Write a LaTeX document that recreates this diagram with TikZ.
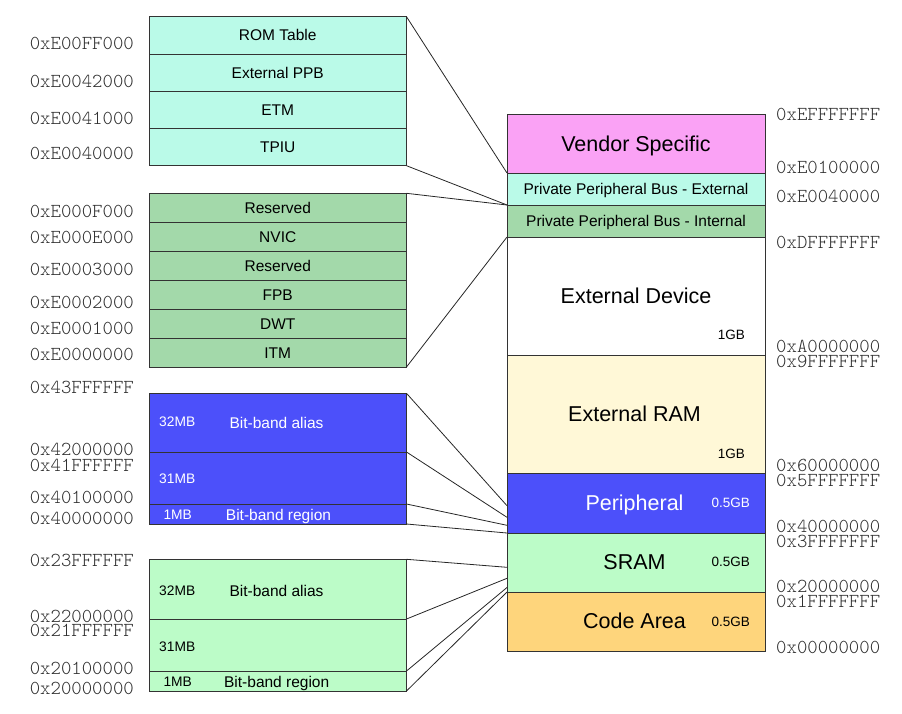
\documentclass[tikz,border=0pt]{standalone}
\usepackage{fontspec}
\setmainfont{Liberation Sans}
\definecolor{cA}{RGB}{186,250,232}
\definecolor{cB}{RGB}{163,217,170}
\definecolor{cBlue}{RGB}{76,80,250}
\definecolor{cG}{RGB}{188,252,200}
\definecolor{cVend}{RGB}{250,162,245}
\definecolor{cRam}{RGB}{255,248,215}
\definecolor{cCode}{RGB}{254,213,124}
\newcommand\addrfont{\ttfamily\fontseries{l}\fontsize{19.8}{20}\selectfont}
\begin{document}
\begin{tikzpicture}[x=1pt,y=-1pt,
  cell/.style={draw=black!80, line width=0.8pt, anchor=north west, inner sep=0pt, outer sep=0pt,
    font=\fontsize{15.5}{16}\selectfont, text height=11.1pt, text depth=0pt},
  lcell/.style={cell, minimum width=257.5pt},
  mcell/.style={cell, minimum width=258pt},
  bigtxt/.style={font=\fontsize{21.5}{22}\selectfont, text height=15.4pt, text depth=0pt},
  gbtxt/.style={font=\fontsize{13.5}{14}\selectfont, text height=9.7pt, text depth=0pt, inner sep=0pt, anchor=east},
  mbtxt/.style={font=\fontsize{13.8}{14}\selectfont, text height=9.9pt, text depth=0pt, inner sep=0pt, anchor=west},
  bbtxt/.style={font=\fontsize{15.5}{16}\selectfont, text height=11.1pt, text depth=0pt, inner sep=0pt},
  laddr/.style={font=\addrfont, inner sep=0pt, anchor=base east, text=black!82, text height=11.5pt, text depth=0pt},
  raddr/.style={font=\addrfont, inner sep=0pt, anchor=base west, text=black!82, text height=11.5pt, text depth=0pt},
  conn/.style={draw=black!85, line width=0.8pt}
]
\useasboundingbox (0,0) rectangle (902,713);

% ---------- main memory map ----------
\node[mcell, fill=cVend, minimum height=59pt, bigtxt] (vendor) at (507,114) {Vendor Specific};
\node[mcell, fill=cA, minimum height=32pt] (ppbe) at (507,173) {Private Peripheral Bus - External};
\node[mcell, fill=cB, minimum height=32pt] (ppbi) at (507,205) {Private Peripheral Bus - Internal};
\node[mcell, fill=white, minimum height=118pt, bigtxt] (extdev) at (507,237) {External Device};
\node[mcell, fill=cRam, minimum height=118.5pt] (extram) at (507,355) {};
\node[mcell, fill=cBlue, minimum height=59.5pt] (periph) at (507,473.5) {};
\node[mcell, fill=cG, minimum height=59pt] (sram) at (507,533) {};
\node[mcell, fill=cCode, minimum height=59pt] (code) at (507,592) {};

\node[bigtxt, inner sep=0pt] (tram) at (634.5,413.3) {External RAM};
\node[bigtxt, inner sep=0pt, text=white] (tper) at (634.5,502.7) {Peripheral};
\node[bigtxt, inner sep=0pt] (tsram) at (634.5,561.7) {SRAM};
\node[bigtxt, inner sep=0pt] (tcode) at (634.5,620.7) {Code Area};

\node[gbtxt] (gb1) at (745,335) {1GB};
\node[gbtxt] (gb2) at (745,453.3) {1GB};
\node[gbtxt, text=white] (gb3) at (750,502.7) {0.5GB};
\node[gbtxt] (gb4) at (750,561.7) {0.5GB};
\node[gbtxt] (gb5) at (750,621.5) {0.5GB};

% right addresses
\node[raddr] (ra1) at (776,120) {0xEFFFFFFF};
\node[raddr] (ra2) at (776,173) {0xE0100000};
\node[raddr] (ra3) at (776,202.5) {0xE0040000};
\node[raddr] (ra4) at (776,248.5) {0xDFFFFFFF};
\node[raddr] (ra5) at (776,352.5) {0xA0000000};
\node[raddr] (ra6) at (776,367.5) {0x9FFFFFFF};
\node[raddr] (ra7) at (776,471.5) {0x60000000};
\node[raddr] (ra8) at (776,486.5) {0x5FFFFFFF};
\node[raddr] (ra9) at (776,532) {0x40000000};
\node[raddr] (ra10) at (776,547) {0x3FFFFFFF};
\node[raddr] (ra11) at (776,592.5) {0x20000000};
\node[raddr] (ra12) at (776,607.5) {0x1FFFFFFF};
\node[raddr] (ra13) at (776,653.5) {0x00000000};

% ---------- group 1: PPB external ----------
\node[lcell, fill=cA, minimum height=37.25pt] (rom) at (149,16.7) {ROM Table};
\node[lcell, fill=cA, minimum height=37.25pt] (eppb) at (149,53.95) {External PPB};
\node[lcell, fill=cA, minimum height=37.25pt] (etm) at (149,91.2) {ETM};
\node[lcell, fill=cA, minimum height=37.25pt] (tpiu) at (149,128.45) {TPIU};

\node[laddr] (la1) at (134,49) {0xE00FF000};
\node[laddr] (la2) at (134,87) {0xE0042000};
\node[laddr] (la3) at (134,124) {0xE0041000};
\node[laddr] (la4) at (134,159) {0xE0040000};

% ---------- group 2: PPB internal ----------
\node[lcell, fill=cB, minimum height=28.95pt] (res1) at (149,193.3) {Reserved};
\node[lcell, fill=cB, minimum height=28.95pt] (nvic) at (149,222.25) {NVIC};
\node[lcell, fill=cB, minimum height=28.95pt] (res2) at (149,251.2) {Reserved};
\node[lcell, fill=cB, minimum height=28.95pt] (fpb) at (149,280.15) {FPB};
\node[lcell, fill=cB, minimum height=28.95pt] (dwt) at (149,309.1) {DWT};
\node[lcell, fill=cB, minimum height=28.95pt] (itm) at (149,338.05) {ITM};

\node[laddr] (la5) at (134,217) {0xE000F000};
\node[laddr] (la6) at (134,243) {0xE000E000};
\node[laddr] (la7) at (134,275) {0xE0003000};
\node[laddr] (la8) at (134,308.5) {0xE0002000};
\node[laddr] (la9) at (134,334) {0xE0001000};
\node[laddr] (la10) at (134,360) {0xE0000000};

% ---------- group 3: peripheral bit-band ----------
\node[lcell, fill=cBlue, minimum height=58.7pt] (alias1) at (149,393.3) {};
\node[lcell, fill=cBlue, minimum height=52pt] (mid1) at (149,452) {};
\node[lcell, fill=cBlue, minimum height=20pt] (bbr1) at (149,504) {};
\node[mbtxt, text=white] (m1a) at (159,421.7) {32MB};
\node[bbtxt, text=white] (t1a) at (276.5,422.5) {Bit-band alias};
\node[mbtxt, text=white] (m1b) at (159,478.3) {31MB};
\node[mbtxt, text=white] (m1c) at (163.3,515) {1MB};
\node[bbtxt, text=white] (t1c) at (278.5,515) {Bit-band region};

\node[laddr] (la11) at (134,393) {0x43FFFFFF};
\node[laddr] (la12) at (134,455) {0x42000000};
\node[laddr] (la13) at (134,471) {0x41FFFFFF};
\node[laddr] (la14) at (134,503) {0x40100000};
\node[laddr] (la15) at (134,524) {0x40000000};

% ---------- group 4: SRAM bit-band ----------
\node[lcell, fill=cG, minimum height=59.7pt] (alias2) at (149,559.3) {};
\node[lcell, fill=cG, minimum height=52pt] (mid2) at (149,619) {};
\node[lcell, fill=cG, minimum height=20pt] (bbr2) at (149,671) {};
\node[mbtxt] (m2a) at (159,590.7) {32MB};
\node[bbtxt] (t2a) at (276.5,590.7) {Bit-band alias};
\node[mbtxt] (m2b) at (159,646.7) {31MB};
\node[mbtxt] (m2c) at (163.3,681.7) {1MB};
\node[bbtxt] (t2c) at (276.7,681.7) {Bit-band region};

\node[laddr] (la16) at (134,566.5) {0x23FFFFFF};
\node[laddr] (la17) at (134,622.5) {0x22000000};
\node[laddr] (la18) at (134,636) {0x21FFFFFF};
\node[laddr] (la19) at (134,674) {0x20100000};
\node[laddr] (la20) at (134,694) {0x20000000};

% ---------- connectors ----------
\coordinate (p1) at (507,505.7);
\coordinate (p2) at (507,517.3);
\coordinate (p3) at (507,525.3);
\coordinate (s1) at (507,567.3);
\coordinate (s2) at (507,578.3);
\coordinate (s3) at (507,587.5);

\draw[conn] (rom.north east) -- (vendor.south west);
\draw[conn] (tpiu.south east) -- (ppbe.south west);
\draw[conn] (res1.north east) -- (ppbe.south west);
\draw[conn] (itm.south east) -- (ppbi.south west);
\draw[conn] (alias1.north east) -- (p1);
\draw[conn] (alias1.south east) -- (p2);
\draw[conn] (bbr1.north east) -- (p3);
\draw[conn] (bbr1.south east) -- (periph.south west);
\draw[conn] (alias2.north east) -- (s1);
\draw[conn] (alias2.south east) -- (s2);
\draw[conn] (bbr2.north east) -- (s3);
\draw[conn] (bbr2.south east) -- (sram.south west);
\end{tikzpicture}
\end{document}
